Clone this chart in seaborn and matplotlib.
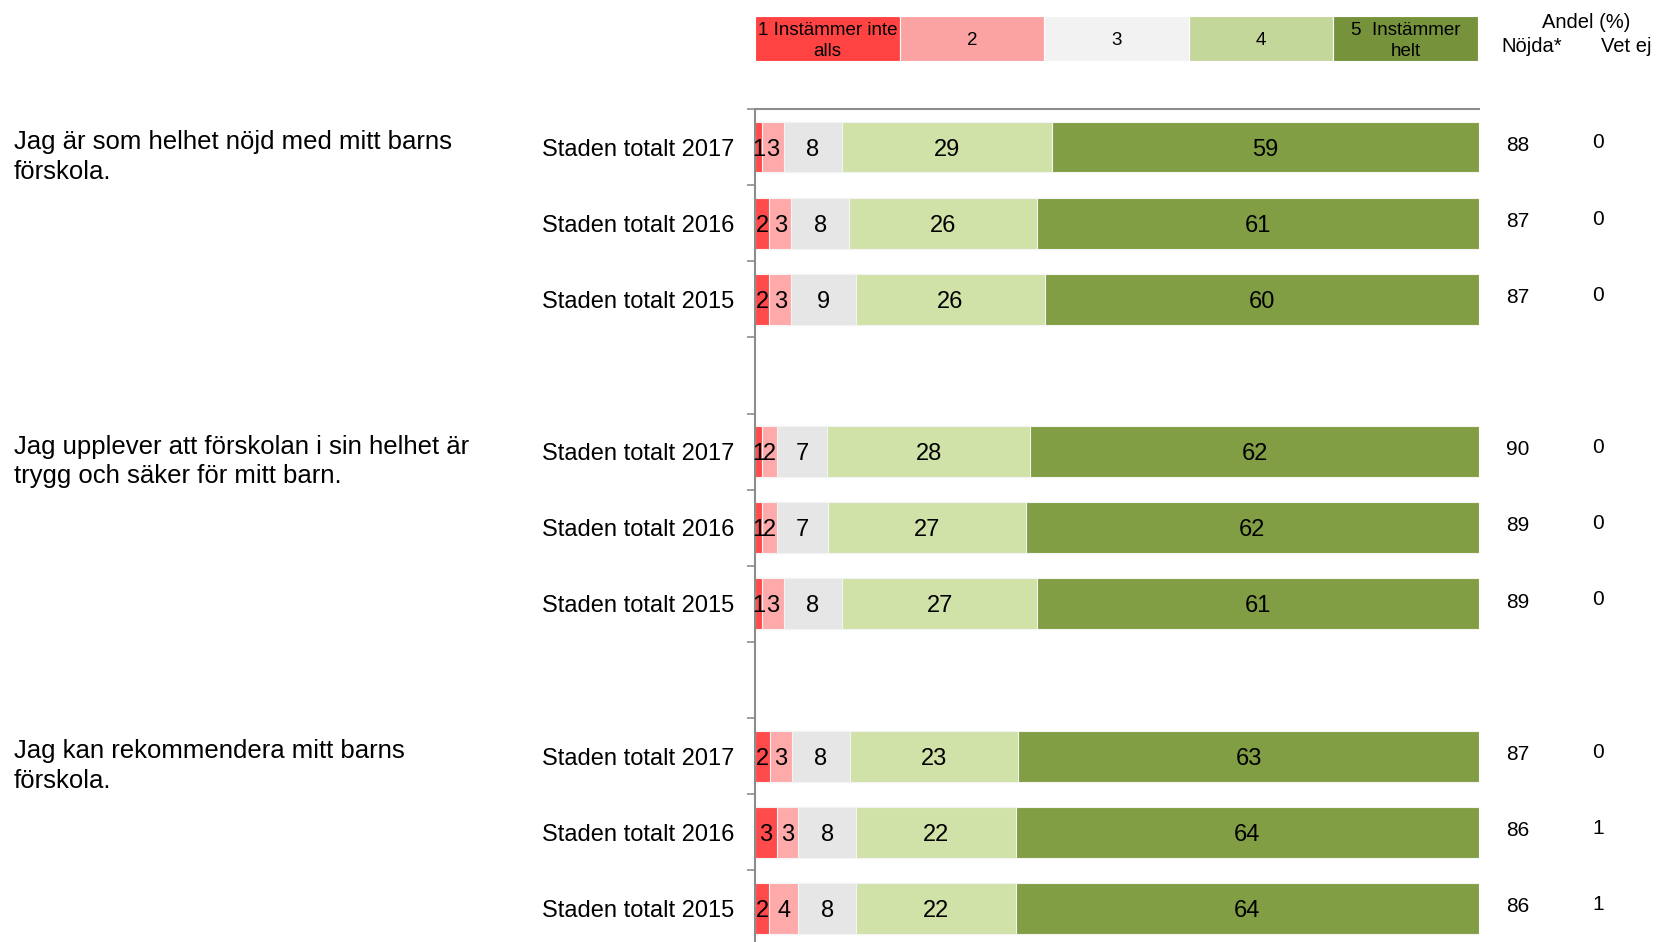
import numpy as np
import pandas as pd
import seaborn as sns
import matplotlib.pyplot as plt
import matplotlib.transforms as mtransforms
from matplotlib.patches import Rectangle

questions = ["Jag är som helhet nöjd med mitt barns\nförskola.",
             "Jag upplever att förskolan i sin helhet är\ntrygg och säker för mitt barn.",
             "Jag kan rekommendera mitt barns\nförskola."]
years = ["2017", "2016", "2015"]
scale_labels = ["1 Instämmer inte\nalls", "2", "3", "4", "5  Instämmer\nhelt"]

# andel (%) per svarsalternativ, rad för rad: fråga 1 (2017, 2016, 2015), fråga 2 ..., fråga 3 ...
s1 = [1, 2, 2, 1, 1, 1, 2, 3, 2]
s2 = [3, 3, 3, 2, 2, 3, 3, 3, 4]
s3 = [8, 8, 9, 7, 7, 8, 8, 8, 8]
s4 = [29, 26, 26, 28, 27, 27, 23, 22, 22]
s5 = [59, 61, 60, 62, 62, 61, 63, 64, 64]
nojda = [88, 87, 87, 90, 89, 89, 87, 86, 86]
vet_ej = [0, 0, 0, 0, 0, 0, 0, 1, 1]

bar_colors = ["#FF4B4B", "#FFAAAA", "#E6E6E6", "#D0E2A8", "#829E44"]
legend_colors = ["#FF4343", "#FBA3A3", "#F2F2F2", "#C4D79B", "#76933C"]

sns.set_style("white")
plt.rcParams['font.family'] = ['Liberation Sans', 'DejaVu Sans']
plt.rcParams['text.color'] = 'black'
plt.rcParams['ytick.labelcolor'] = 'black'

keys = [f"q{q}_{y}" for q in range(len(questions)) for y in years]
df = pd.DataFrame({"key": keys, "s1": s1, "s2": s2, "s3": s3, "s4": s4, "s5": s5,
                   "nojda": nojda, "vet_ej": vet_ej})
cols = ["s1", "s2", "s3", "s4", "s5"]
cum = df[cols].cumsum(axis=1).div(df[cols].sum(axis=1), axis=0) * 100
for c in cols:
    df["cum_" + c] = cum[c]

# ordning med tomma rader mellan frågorna
order = []
for q in range(len(questions)):
    order += [f"q{q}_{y}" for y in years]
    if q < len(questions) - 1:
        order.append(f"gap{q}")

fig = plt.figure(figsize=(16.58, 9.42), dpi=100)
ax = fig.add_axes([755 / 1658, 1 - 946.5 / 942, 724 / 1658, 837.5 / 942])

for k in range(len(cols) - 1, -1, -1):
    sns.barplot(data=df, x="cum_" + cols[k], y="key", order=order, orient="h",
                color=bar_colors[k], saturation=1, width=0.667, errorbar=None,
                edgecolor="#f4f4f4", linewidth=0.8, ax=ax)

ax.set_xlim(0, 100)
ax.set_ylim(len(order) - 0.5, -0.5)
ax.set_xticks([])
ax.set_xlabel("")
ax.set_ylabel("")
ax.set_yticks(range(len(order)))
ax.set_yticklabels(["Staden totalt " + k.split("_")[1] if k.startswith("q") else "" for k in order])
ax.set_yticks(np.arange(-0.5, len(order), 1), minor=True)
ax.tick_params(axis="y", which="major", left=False, length=0, pad=15, labelsize=17,
               labelcolor="black")
ax.tick_params(axis="y", which="minor", left=True, length=6, width=1.2,
               color="#8c8c8c", direction="out")
for side in ["right", "bottom"]:
    ax.spines[side].set_visible(False)
for side in ["top", "left"]:
    ax.spines[side].set_color("#8c8c8c")
    ax.spines[side].set_linewidth(1.5)

# värden i staplarna
for _, row in df.iterrows():
    ypos = order.index(row["key"])
    prev = 0
    for c in cols:
        end = row["cum_" + c]
        ax.text((prev + end) / 2, ypos, str(int(row[c])), ha="center", va="center_baseline",
                fontsize=17, color="black")
        prev = end

# Nöjda / Vet ej kolumner
tr = mtransforms.blended_transform_factory(fig.transFigure, ax.transData)
for _, row in df.iterrows():
    ypos = order.index(row["key"])
    ax.text(1518 / 1658, ypos - 0.05, str(row["nojda"]), transform=tr,
            ha="center", va="center_baseline", fontsize=15)
    ax.text(1598 / 1658, ypos - 0.08, str(row["vet_ej"]), transform=tr,
            ha="center", va="center_baseline", fontsize=15)

# frågetexter
for q, text in enumerate(questions):
    ypos = order.index(f"q{q}_{years[0]}")
    ax.text(14 / 1658, ypos - 0.22, text, transform=tr, ha="left", va="top",
            fontsize=18.5, linespacing=1.28)

fig.text(1586 / 1658, 1 - 22 / 942, "Andel (%)", ha="center", va="center", fontsize=14.5)
fig.text(1532 / 1658, 1 - 46.5 / 942, "Nöjda*", ha="center", va="center", fontsize=14.5)
fig.text(1601 / 1658, 1 - 46.5 / 942, "Vet ej", ha="left", va="center", fontsize=14.5)

# legend med skalsteg
leg_ax = fig.add_axes([755 / 1658, 1 - 61 / 942, 723 / 1658, 45 / 942])
leg_ax.set_xlim(0, len(scale_labels))
leg_ax.set_ylim(0, 1)
leg_ax.axis("off")
for i, (lab, col) in enumerate(zip(scale_labels, legend_colors)):
    leg_ax.add_patch(Rectangle((i, 0), 1, 1, facecolor=col, edgecolor="white", linewidth=0.8))
    leg_ax.text(i + 0.5, 0.45, lab, ha="center", va="center", fontsize=13.5,
                linespacing=1.3)

plt.savefig("out.png", dpi=100)
